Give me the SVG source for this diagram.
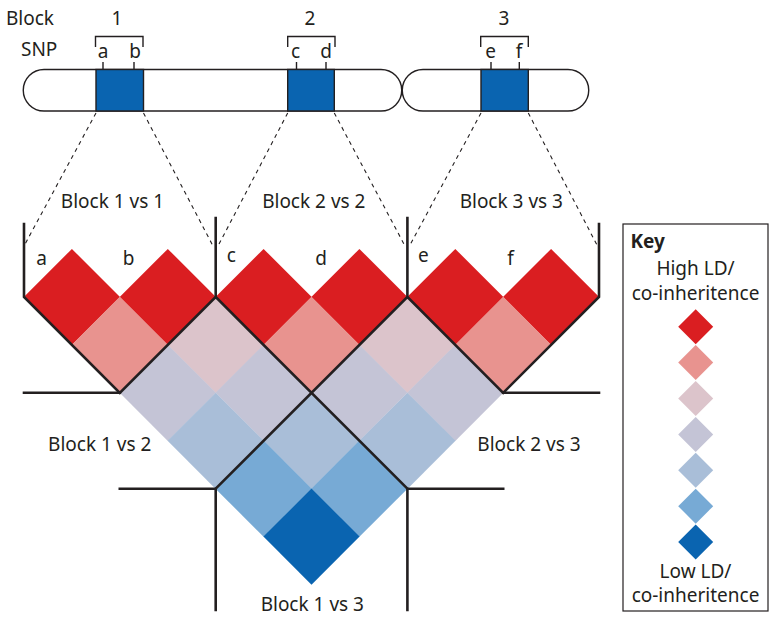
<svg xmlns="http://www.w3.org/2000/svg" xmlns:xlink="http://www.w3.org/1999/xlink" width="769" height="624" viewBox="0 0 769 624">
<style>
text{font-family:"Noto Sans","Liberation Sans",sans-serif;font-size:19px;fill:#231F20}
.m{text-anchor:middle}
.ln{stroke:#231F20;stroke-width:2.6;fill:none;stroke-linecap:square}
.thin{stroke:#231F20;stroke-width:1.4;fill:none}
.dash{stroke:#231F20;stroke-width:1.1;fill:none;stroke-dasharray:4 4}
.c0{fill:#DA1E21}.c1{fill:#E8938F}.c2{fill:#DCC4CB}.c3{fill:#C4C4D6}.c4{fill:#A9BED8}.c5{fill:#77AAD5}.c6{fill:#0A64B0}
</style>
<defs>
<polygon id="dm" points="0,-48.1 48.1,0 0,48.1 -48.1,0"/>
<polygon id="kd" points="0,-17.5 17.5,0 0,17.5 -17.5,0"/>
</defs>
<rect width="769" height="624" fill="#fff"/>

<g id="chromosome">
<path class="thin" d="M44,69.5 H381 A20.75,20.75 0 0 1 381,111 H44 A20.75,20.75 0 0 1 44,69.5 Z" style="fill:#fff"/>
<path class="thin" d="M423,69.5 H568 A20.75,20.75 0 0 1 568,111 H423 A20.75,20.75 0 0 1 423,69.5 Z" style="fill:#fff"/>
</g>

<g id="block1">
<rect x="96" y="69.5" width="47.5" height="41.5" fill="#0A64B0" stroke="#231F20" stroke-width="1.4"/>
<path class="thin" d="M95.5,47 V36.5 H143 V47 M103,62 V69.5 M134,62 V69.5"/>
<text class="m" x="117" y="25">1</text>
<text class="m" x="103" y="57.5">a</text>
<text class="m" x="135" y="57.5">b</text>
</g>
<g id="block2">
<rect x="287.7" y="69.5" width="46.6" height="41.5" fill="#0A64B0" stroke="#231F20" stroke-width="1.4"/>
<path class="thin" d="M287.7,47 V36.5 H335 V47 M296.5,62 V69.5 M326,62 V69.5"/>
<text class="m" x="310" y="25">2</text>
<text class="m" x="295.5" y="57.5">c</text>
<text class="m" x="326" y="57.5">d</text>
</g>
<g id="block3">
<rect x="481" y="69.5" width="47.3" height="41.5" fill="#0A64B0" stroke="#231F20" stroke-width="1.4"/>
<path class="thin" d="M480.7,47 V36.5 H528.3 V47 M491,62 V69.5 M519.3,62 V69.5"/>
<text class="m" x="504" y="25">3</text>
<text class="m" x="490.5" y="57.5">e</text>
<text class="m" x="519" y="57.5">f</text>
</g>
<g id="row-labels">
<text x="6" y="25">Block</text>
<text x="21" y="55.7">SNP</text>
</g>

<g id="ld-cells">
<use href="#dm" class="c0" x="71.9" y="297"/>
<use href="#dm" class="c0" x="167.8" y="297"/>
<use href="#dm" class="c0" x="263.6" y="297"/>
<use href="#dm" class="c0" x="359.4" y="297"/>
<use href="#dm" class="c0" x="455.3" y="297"/>
<use href="#dm" class="c0" x="551.1" y="297"/>
<use href="#dm" class="c1" x="119.8" y="344.9"/>
<use href="#dm" class="c2" x="215.7" y="344.9"/>
<use href="#dm" class="c1" x="311.5" y="344.9"/>
<use href="#dm" class="c2" x="407.4" y="344.9"/>
<use href="#dm" class="c1" x="503.2" y="344.9"/>
<use href="#dm" class="c3" x="167.8" y="392.8"/>
<use href="#dm" class="c3" x="263.6" y="392.8"/>
<use href="#dm" class="c3" x="359.4" y="392.8"/>
<use href="#dm" class="c3" x="455.3" y="392.8"/>
<use href="#dm" class="c4" x="215.7" y="440.8"/>
<use href="#dm" class="c4" x="311.5" y="440.8"/>
<use href="#dm" class="c4" x="407.4" y="440.8"/>
<use href="#dm" class="c5" x="263.6" y="488.7"/>
<use href="#dm" class="c5" x="359.4" y="488.7"/>
<use href="#dm" class="c6" x="311.5" y="536.6"/>
</g>

<g id="connectors">
<path class="dash" d="M96,113 L24,246 M143.5,113 L213,246 M287.7,113 L218,246 M334.3,113 L405,246 M481,113 L409.5,246 M528.3,113 L597.5,246"/>
<path class="ln" d="M24,224 V297 L119.8,392.8 L215.7,297 V218 M215.7,297 L407.4,488.7 M407.4,218 V297 L215.7,488.7 M407.4,297 L503.2,392.8 L599,297 V224"/>
<path class="ln" d="M24,392.8 H119.8 M503.2,392.8 H599 M119.8,488.7 H215.7 V610 M407.4,610 V488.7 H503.2"/>
</g>

<g id="snp-labels">
<text class="m" x="41.7" y="265">a</text>
<text class="m" x="128.7" y="265">b</text>
<text class="m" x="231.3" y="262">c</text>
<text class="m" x="321" y="265">d</text>
<text class="m" x="423.3" y="262">e</text>
<text class="m" x="510.5" y="265">f</text>
</g>
<g id="block-labels">
<text class="m" x="112.5" y="207.5">Block 1 vs 1</text>
<text class="m" x="313.8" y="207.5">Block 2 vs 2</text>
<text class="m" x="511.3" y="207.5">Block 3 vs 3</text>
<text class="m" x="99.7" y="450.7">Block 1 vs 2</text>
<text class="m" x="529" y="450.7">Block 2 vs 3</text>
<text class="m" x="312.3" y="611">Block 1 vs 3</text>
</g>

<g id="key">
<rect x="623" y="224" width="145" height="387" fill="#fff" stroke="#231F20" stroke-width="1.2"/>
<text x="630.5" y="248" style="font-weight:bold">Key</text>
<text class="m" x="695.5" y="275">High LD/</text>
<text class="m" x="695.5" y="300">co-inheritence</text>
<use href="#kd" class="c0" x="695.7" y="326.7"/>
<use href="#kd" class="c1" x="695.7" y="362.6"/>
<use href="#kd" class="c2" x="695.7" y="398.5"/>
<use href="#kd" class="c3" x="695.7" y="434.4"/>
<use href="#kd" class="c4" x="695.7" y="470.3"/>
<use href="#kd" class="c5" x="695.7" y="506.2"/>
<use href="#kd" class="c6" x="695.7" y="542.1"/>
<text class="m" x="695.5" y="578.3">Low LD/</text>
<text class="m" x="695.5" y="601.7">co-inheritence</text>
</g>
</svg>
